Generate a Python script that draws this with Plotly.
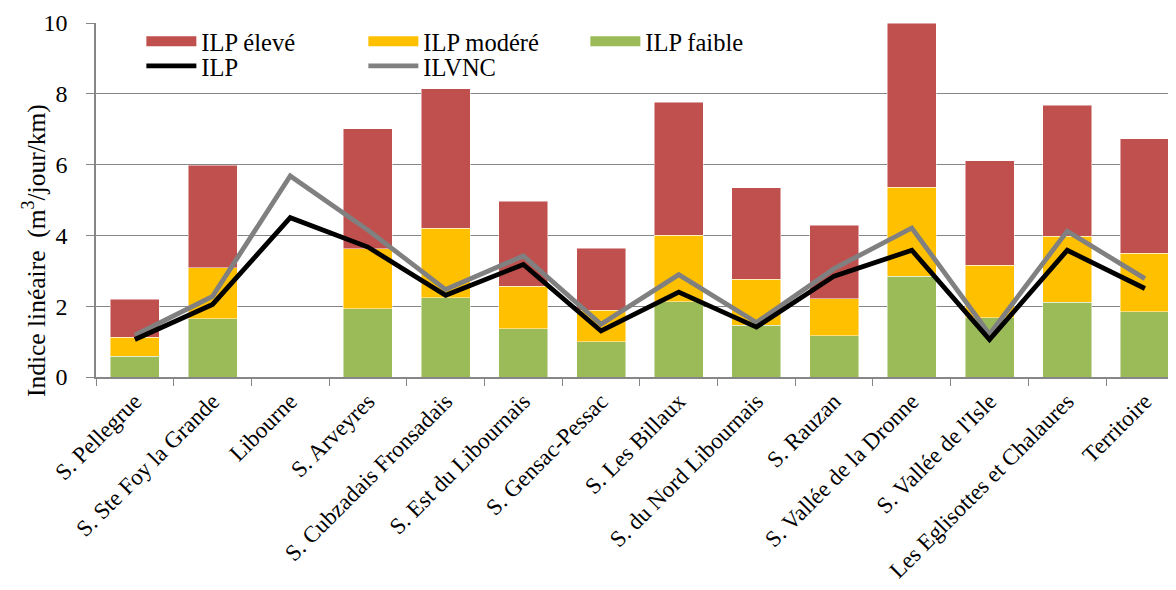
import plotly.graph_objects as go

categories = ["S. Pellegrue", "S. Ste Foy la Grande", "Libourne", "S. Arveyres",
              "S. Cubzadais Fronsadais", "S. Est du Libournais", "S. Gensac-Pessac",
              "S. Les Billaux", "S. du Nord Libournais", "S. Rauzan",
              "S. Vallée de la Dronne", "S. Vallée de l'Isle",
              "Les Eglisottes et Chalaures", "Territoire"]
ilp_faible = [0.59, 1.65, 0, 1.93, 2.24, 1.36, 1.00, 2.12, 1.46, 1.16, 2.84, 1.68, 2.11, 1.84]
ilp_modere = [0.54, 1.44, 0, 1.70, 1.96, 1.21, 0.88, 1.88, 1.30, 1.05, 2.52, 1.48, 1.86, 1.65]
ilp_eleve = [1.06, 2.89, 0, 3.38, 3.94, 2.39, 1.76, 3.76, 2.58, 2.08, 4.64, 2.95, 3.71, 3.24]
ilp = [1.06, 2.05, 4.50, 3.67, 2.31, 3.18, 1.30, 2.40, 1.41, 2.85, 3.58, 1.06, 3.58, 2.50]
ilvnc = [1.18, 2.28, 5.68, 4.15, 2.47, 3.42, 1.49, 2.89, 1.54, 3.06, 4.21, 1.21, 4.12, 2.78]
y_ticks = [0, 2, 4, 6, 8, 10]

FONT = "Liberation Serif, Times New Roman, serif"
COL_FAIBLE, COL_MODERE, COL_ELEVE = "#9BBB59", "#FFC000", "#C0504D"

fig = go.Figure()
bar_line = dict(color="rgba(255,255,255,0.6)", width=0.8)
fig.add_trace(go.Bar(x=categories, y=ilp_faible, name="ILP faible", marker=dict(color=COL_FAIBLE, line=bar_line), showlegend=False))
fig.add_trace(go.Bar(x=categories, y=ilp_modere, name="ILP modéré", marker=dict(color=COL_MODERE, line=bar_line), showlegend=False))
fig.add_trace(go.Bar(x=categories, y=ilp_eleve, name="ILP élevé", marker=dict(color=COL_ELEVE, line=bar_line), showlegend=False))
fig.add_trace(go.Scatter(x=categories, y=ilvnc, name="ILVNC", mode="lines", line=dict(color="#808080", width=4.8), legend="legend2", legendrank=2))
fig.add_trace(go.Scatter(x=categories, y=ilp, name="ILP", mode="lines", line=dict(color="#000000", width=4.8), legend="legend2", legendrank=1))

# legend swatches for the stacked series (wide rectangles like the original)
for name, col, rank in [("ILP élevé", COL_ELEVE, 1), ("ILP modéré", COL_MODERE, 2), ("ILP faible", COL_FAIBLE, 3)]:
    fig.add_trace(go.Scatter(x=[None], y=[None], name=name, mode="lines",
                             line=dict(color=col, width=14), legend="legend", legendrank=rank))

fig.update_layout(
    barmode="stack", bargap=0.37,
    width=1176, height=590,
    margin=dict(l=88, r=8, t=15, b=221),
    plot_bgcolor="white", paper_bgcolor="white",
    font=dict(family=FONT, size=24, color="black"),
    showlegend=True,
    legend=dict(orientation="h", x=0.042, y=1.012, xanchor="left", yanchor="top",
                entrywidth=157, entrywidthmode="pixels", traceorder="normal",
                font=dict(size=24.5), bgcolor="rgba(0,0,0,0)", itemwidth=50),
    legend2=dict(orientation="h", x=0.042, y=0.942, xanchor="left", yanchor="top",
                 entrywidth=157, entrywidthmode="pixels", traceorder="normal",
                 font=dict(size=24.5), bgcolor="rgba(0,0,0,0)", itemwidth=50),
)
fig.update_xaxes(range=[-0.5, 13.4], showgrid=False, showline=True, linecolor="#868686", linewidth=1.5,
                 ticks="outside", tickson="boundaries", ticklen=7, tickcolor="#868686",
                 tickangle=-45, tickfont=dict(family=FONT, size=23), automargin=False)
fig.update_yaxes(range=[0, 10], tickvals=y_ticks, showgrid=True, gridcolor="#868686", gridwidth=1.2,
                 showline=True, linecolor="#868686", linewidth=1.5, ticks="outside", ticklen=8,
                 tickcolor="#868686", tickfont=dict(family=FONT, size=24), zeroline=False,
                 ticklabelstandoff=14, automargin=False)
fig.add_annotation(text="Indice linéaire  (m<sup>3</sup>/jour/km)", textangle=-90,
                   xref="paper", yref="paper", x=-0.057, y=0.357, xanchor="center", yanchor="middle",
                   showarrow=False, font=dict(family=FONT, size=25.5))
fig.write_html("out.html")
